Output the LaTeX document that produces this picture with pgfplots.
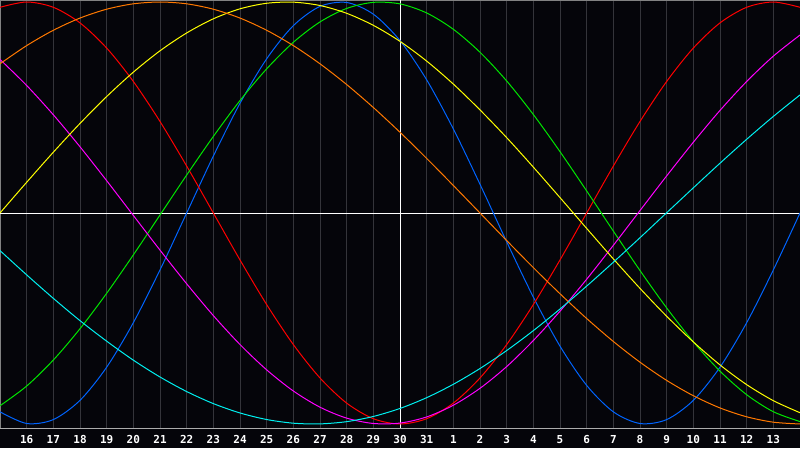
\documentclass[border=0pt]{standalone}
\usepackage{pgfplots}
\pgfplotsset{compat=1.18}
\usepackage{fontspec}
\setmainfont{DejaVu Sans Mono}

\definecolor{bg}{RGB}{5,5,10}
\definecolor{gridc}{RGB}{52,52,58}
\definecolor{framec}{RGB}{130,130,130}
\definecolor{cred}{RGB}{255,0,0}
\definecolor{cgreen}{RGB}{0,230,0}
\definecolor{cblue}{RGB}{0,100,255}
\definecolor{cyellow}{RGB}{255,255,0}
\definecolor{corange}{RGB}{255,120,0}
\definecolor{cmag}{RGB}{255,0,255}
\definecolor{ccyan}{RGB}{0,240,240}

\begin{document}
\begin{tikzpicture}[x=1pt,y=1pt]
\fill[bg] (0,-20) rectangle (800,428);
\begin{axis}[
  at={(0,0)}, anchor=south west,
  width=800pt, height=428pt, scale only axis,
  xmin=-15, xmax=15, ymin=-1.019, ymax=1.0095,
  axis line style={framec, line width=1pt},
  xtick={-14,...,14},
  xticklabels={16,17,18,19,20,21,22,23,24,25,26,27,28,29,30,31,1,2,3,4,5,6,7,8,9,10,11,12,13},
  ytick=\empty,
  major tick length=0pt,
  xmajorgrids,
  major grid style={gridc, line width=1pt},
  extra x ticks={0}, extra x tick labels={},
  extra y ticks={0}, extra y tick labels={},
  extra tick style={major grid style={white, line width=1pt}, grid=major},
  xticklabel style={anchor=base, yshift=-15.3pt, text=white,
    font=\bfseries\fontsize{11}{11}\selectfont},
  every axis plot/.append style={line width=1pt, smooth},
]
% blue, 23 days
\addplot[cblue] coordinates {
(-15,-0.9423) (-14,-0.9977) (-13,-0.9791) (-12,-0.8879) (-11,-0.7308) (-10,-0.5199)
(-9,-0.2698) (-8,0) (-7,0.2698) (-6,0.5199) (-5,0.7308) (-4,0.8879) (-3,0.9791)
(-2,0.9977) (-1,0.9423) (0,0.8170) (1,0.6311) (2,0.3984) (3,0.1362) (4,-0.1362)
(5,-0.3984) (6,-0.6311) (7,-0.8170) (8,-0.9423) (9,-0.9977) (10,-0.9791) (11,-0.8879)
(12,-0.7308) (13,-0.5199) (14,-0.2698) (15,0)};
% red, 28 days
\addplot[cred] coordinates {
(-15,0.9749) (-14,1) (-13,0.9749) (-12,0.9010) (-11,0.7818) (-10,0.6235) (-9,0.4339)
(-8,0.2225) (-7,0) (-6,-0.2225) (-5,-0.4339) (-4,-0.6235) (-3,-0.7818) (-2,-0.9010)
(-1,-0.9749) (0,-1) (1,-0.9749) (2,-0.9010) (3,-0.7818) (4,-0.6235) (5,-0.4339)
(6,-0.2225) (7,0) (8,0.2225) (9,0.4339) (10,0.6235) (11,0.7818) (12,0.9010)
(13,0.9749) (14,1) (15,0.9749)};
% green, 33 days
\addplot[cgreen] coordinates {
(-15,-0.9135) (-14,-0.8201) (-13,-0.6968) (-12,-0.5485) (-11,-0.3805) (-10,-0.1986)
(-9,-0.0095) (-8,0.1799) (-7,0.3628) (-6,0.5330) (-5,0.6832) (-4,0.8090) (-3,0.9056)
(-2,0.9695) (-1,0.9984) (0,0.9911) (1,0.9481) (2,0.8707) (3,0.7619) (4,0.6258)
(5,0.4668) (6,0.2908) (7,0.1045) (8,-0.0856) (9,-0.2726) (10,-0.4498) (11,-0.6107)
(12,-0.7495) (13,-0.8612) (14,-0.9419) (15,-0.9884)};
% magenta, 38 days
\addplot[cmag] coordinates {
(-15,0.7279) (-14,0.6044) (-13,0.4655) (-12,0.3139) (-11,0.1532) (-10,-0.0116)
(-9,-0.1759) (-8,-0.3354) (-7,-0.4862) (-6,-0.6233) (-5,-0.7434) (-4,-0.8435)
(-3,-0.9204) (-2,-0.9722) (-1,-0.9975) (0,-0.9956) (1,-0.9665) (2,-0.9111) (3,-0.8308)
(4,-0.7279) (5,-0.6044) (6,-0.4655) (7,-0.3139) (8,-0.1532) (9,0.0116) (10,0.1759)
(11,0.3354) (12,0.4862) (13,0.6233) (14,0.7434) (15,0.8435)};
% yellow, 43 days
\addplot[cyellow] coordinates {
(-15,0) (-14,0.1456) (-13,0.2881) (-12,0.4245) (-11,0.5519) (-10,0.6675) (-9,0.7687)
(-8,0.8533) (-7,0.9204) (-6,0.9677) (-5,0.9940) (-4,0.9993) (-3,0.9834) (-2,0.9465)
(-1,0.8894) (0,0.8135) (1,0.7200) (2,0.6110) (3,0.4885) (4,0.3572) (5,0.2174)
(6,0.0730) (7,-0.0730) (8,-0.2174) (9,-0.3572) (10,-0.4893) (11,-0.6110) (12,-0.7200)
(13,-0.8135) (14,-0.8894) (15,-0.9465)};
% orange, 48 days
\addplot[corange] coordinates {
(-15,0.7071) (-14,0.7934) (-13,0.8660) (-12,0.9239) (-11,0.9659) (-10,0.9914) (-9,1)
(-8,0.9914) (-7,0.9659) (-6,0.9239) (-5,0.8660) (-4,0.7934) (-3,0.7071) (-2,0.6088)
(-1,0.5) (0,0.3827) (1,0.2588) (2,0.1305) (3,0) (4,-0.1305) (5,-0.2588) (6,-0.3827)
(7,-0.5) (8,-0.6088) (9,-0.7071) (10,-0.7934) (11,-0.8660) (12,-0.9239) (13,-0.9659)
(14,-0.9914) (15,-1)};
% cyan, 53 days
\addplot[ccyan] coordinates {
(-15,-0.1782) (-14,-0.2932) (-13,-0.4045) (-12,-0.5102) (-11,-0.6075) (-10,-0.6974)
(-9,-0.7772) (-8,-0.8462) (-7,-0.9033) (-6,-0.9477) (-5,-0.9788) (-4,-0.9962)
(-3,-0.9995) (-2,-0.9889) (-1,-0.9643) (0,-0.9263) (1,-0.8752) (2,-0.8118) (3,-0.7370)
(4,-0.6519) (5,-0.5575) (6,-0.4549) (7,-0.3464) (8,-0.2334) (9,-0.1171) (10,0.0012)
(11,0.1193) (12,0.2360) (13,0.3493) (14,0.4577) (15,0.5596)};
\draw[gray!65, line width=1pt] (axis cs:-15,-1.019) -- (axis cs:15,-1.019);
\end{axis}
\pgfresetboundingbox
\useasboundingbox (0,-20) rectangle (800,428);
\end{tikzpicture}
\end{document}
